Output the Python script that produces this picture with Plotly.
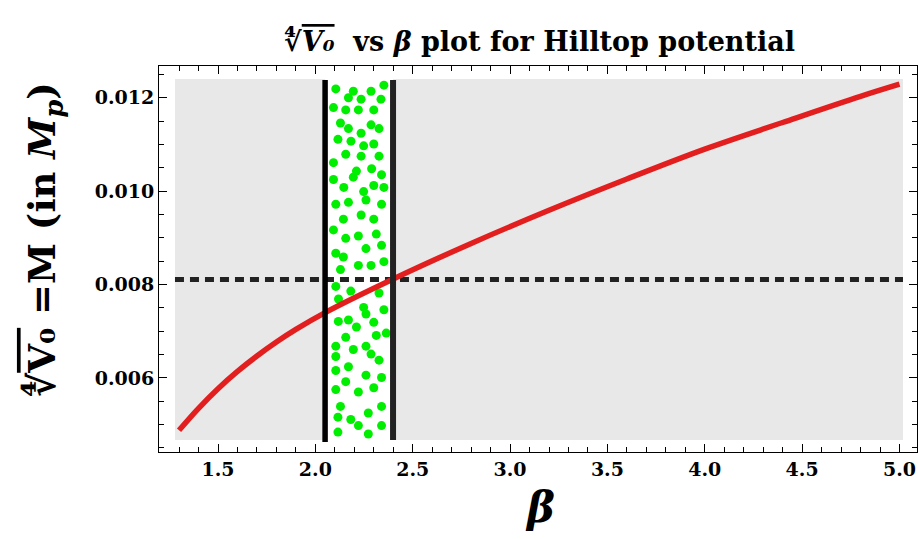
import plotly.graph_objects as go

# Red curve: fourth root of V0 (in Planck units) against beta
beta_curve = [1.30, 1.40, 1.50, 1.60, 1.70, 1.80, 1.90, 2.05, 2.40, 2.80, 3.20, 3.60, 4.00, 4.40, 4.80, 5.00]
m_curve = [0.00488, 0.00535, 0.00577, 0.00614, 0.00647, 0.00677, 0.00704, 0.00740,
           0.00812, 0.00888, 0.00959, 0.01026, 0.01090, 0.01147, 0.01203, 0.01229]

# Allowed band in beta (bounded by the two vertical lines) and the horizontal reference level
beta_band_low = 2.050
beta_band_high = 2.399
m_reference = 0.00811

# Shaded region and vertical extent of the band lines
beta_region = [1.279, 5.018]
m_region = [0.00467, 0.01240]
m_left_line = [0.004626, 0.01238]
m_right_line = [0.00467, 0.01238]

# Scattered points filling the allowed band
beta_dots = [2.105, 2.195, 2.286, 2.352, 2.170, 2.235, 2.337, 2.093, 2.156, 2.221,
             2.300, 2.129, 2.170, 2.286, 2.327, 2.235, 2.116, 2.183, 2.248, 2.300,
             2.156, 2.235, 2.327, 2.093, 2.211, 2.289, 2.195, 2.340, 2.093, 2.146,
             2.300, 2.352, 2.248, 2.105, 2.170, 2.260, 2.340, 2.144, 2.235, 2.300,
             2.093, 2.156, 2.221, 2.313, 2.260, 2.340, 2.105, 2.144, 2.352, 2.129,
             2.221, 2.286, 2.105, 2.182, 2.327, 2.119, 2.248, 2.260, 2.352, 2.118,
             2.170, 2.211, 2.300, 2.156, 2.313, 2.364, 2.105, 2.195, 2.260, 2.105,
             2.286, 2.327, 2.170, 2.105, 2.260, 2.340, 2.156, 2.105, 2.221, 2.300,
             2.129, 2.340, 2.116, 2.182, 2.272, 2.221, 2.340, 2.116, 2.272]
m_dots = [0.01219, 0.01214, 0.01214, 0.01227, 0.01200, 0.01197, 0.01197, 0.01179, 0.01174, 0.01174,
          0.01174, 0.01146, 0.01134, 0.01142, 0.01134, 0.01124, 0.01111, 0.01107, 0.01097, 0.01101,
          0.01079, 0.01075, 0.01075, 0.01061, 0.01043, 0.01048, 0.01030, 0.01035, 0.01025, 0.01008,
          0.01012, 0.01008, 0.00999, 0.00972, 0.00976, 0.00981, 0.00972, 0.00940, 0.00949, 0.00940,
          0.00917, 0.00899, 0.00904, 0.00908, 0.00877, 0.00884, 0.00867, 0.00859, 0.00849, 0.00832,
          0.00841, 0.00841, 0.00796, 0.00786, 0.00782, 0.00769, 0.00751, 0.00737, 0.00746, 0.00721,
          0.00724, 0.00709, 0.00719, 0.00687, 0.00691, 0.00696, 0.00668, 0.00661, 0.00668, 0.00646,
          0.00651, 0.00638, 0.00624, 0.00616, 0.00606, 0.00601, 0.00592, 0.00575, 0.00570, 0.00579,
          0.00539, 0.00539, 0.00516, 0.00511, 0.00525, 0.00498, 0.00498, 0.00484, 0.00480]

x_range = [1.197, 5.090]
y_range = [0.004414, 0.01268]

SERIF = "DejaVu Serif, Liberation Serif, serif"

fig = go.Figure()

fig.add_trace(go.Scatter(
    x=beta_dots, y=m_dots, mode="markers",
    marker=dict(color="#00ee00", size=9, line=dict(width=0)),
    hoverinfo="skip"))

fig.add_trace(go.Scatter(
    x=beta_region, y=[m_reference, m_reference], mode="lines",
    line=dict(color="#222222", width=5, dash="9px,6px"),
    hoverinfo="skip"))

fig.add_trace(go.Scatter(
    x=beta_curve, y=m_curve, mode="lines",
    line=dict(color="#e31e1e", width=5.5, shape="spline"),
    hoverinfo="skip"))

fig.add_trace(go.Scatter(
    x=[beta_band_low, beta_band_low], y=m_left_line, mode="lines",
    line=dict(color="#000000", width=5.5), hoverinfo="skip"))
fig.add_trace(go.Scatter(
    x=[beta_band_high, beta_band_high], y=m_right_line, mode="lines",
    line=dict(color="#222222", width=6), hoverinfo="skip"))

# grey plot region with a white strip for the allowed band
fig.add_shape(type="rect", layer="below", xref="x", yref="y",
              x0=beta_region[0], x1=beta_region[1], y0=m_region[0], y1=m_region[1],
              fillcolor="#e8e8e8", line=dict(width=0))
fig.add_shape(type="rect", layer="below", xref="x", yref="y",
              x0=beta_band_low, x1=beta_band_high, y0=m_region[0], y1=m_region[1],
              fillcolor="#ffffff", line=dict(width=0))

axis_common = dict(
    showline=True, linecolor="black", linewidth=1, mirror="ticks",
    ticks="inside", ticklen=8, tickwidth=1, tickcolor="black",
    showgrid=False, zeroline=False,
    tickfont=dict(family=SERIF, size=19, color="black", weight="bold"),
)

fig.update_xaxes(range=x_range, tick0=0, dtick=0.5, tickformat=".1f",
                 minor=dict(dtick=0.1, ticks="inside", ticklen=5, tickcolor="black", showgrid=False),
                 **axis_common)
fig.update_yaxes(range=y_range, tick0=0, dtick=0.002, tickformat=".3f",
                 minor=dict(dtick=0.0005, ticks="inside", ticklen=5, tickcolor="black", showgrid=False),
                 **axis_common)

root_v0_italic = "∜<span style='text-decoration:overline'><i>V₀</i></span>"
root_v0 = "∜<span style='text-decoration:overline'>V₀</span>"

fig.add_annotation(
    text=root_v0_italic + "  vs <i>β</i> plot for Hilltop potential",
    xref="paper", yref="paper", x=0.5026, y=1.065, xanchor="center", yanchor="middle",
    showarrow=False, font=dict(family=SERIF, size=27, color="black", weight="bold"))

fig.add_annotation(
    text=root_v0 + " =M (in <i>M</i><sub><i>p</i></sub>)",
    xref="paper", yref="paper", x=-0.1517, y=0.549, xanchor="center", yanchor="middle",
    textangle=-90, showarrow=False,
    font=dict(family=SERIF, size=37, color="black", weight="bold"))

fig.add_annotation(
    text="<i>β</i>",
    xref="paper", yref="paper", x=0.5026, y=-0.145, xanchor="center", yanchor="middle",
    showarrow=False, font=dict(family=SERIF, size=42, color="black", weight="bold"))

fig.update_layout(
    width=918, height=539,
    margin=dict(l=159, r=1, t=66, b=87),
    paper_bgcolor="white", plot_bgcolor="white",
    showlegend=False,
)

fig.write_html("out.html")
